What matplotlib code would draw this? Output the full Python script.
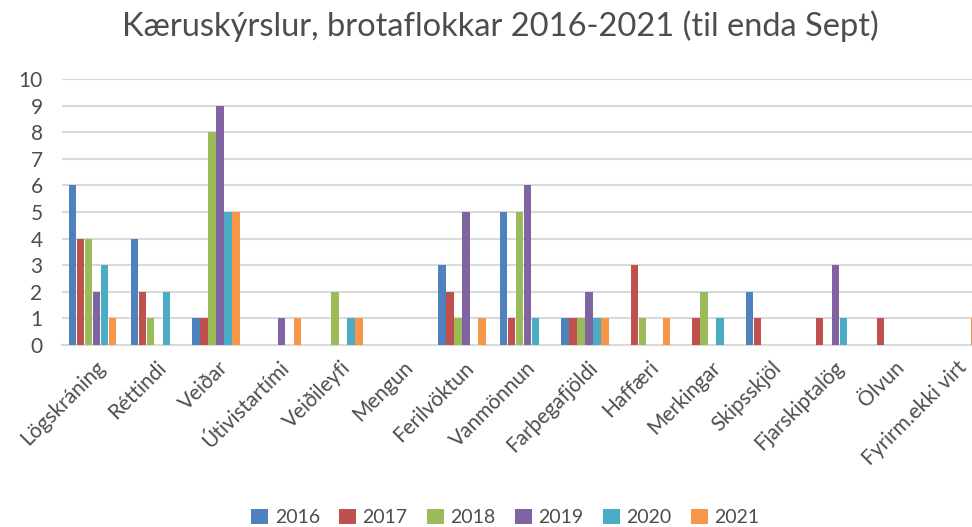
import numpy as np
import matplotlib
matplotlib.use("Agg")
import matplotlib.pyplot as plt

plt.rcParams['font.family'] = ['Lato', 'DejaVu Sans']

flokkar = ['Lögskráning', 'Réttindi', 'Veiðar', 'Útivistartími', 'Veiðileyfi', 'Mengun',
           'Ferilvöktun', 'Vanmönnun', 'Farþegafjöldi', 'Haffæri', 'Merkingar',
           'Skipsskjöl', 'Fjarskiptalög', 'Ölvun', 'Fyrirm.ekki virt']
ar = ['2016', '2017', '2018', '2019', '2020', '2021']

v2016 = [6, 4, 1, 0, 0, 0, 3, 5, 1, 0, 0, 2, 0, 0, 0]
v2017 = [4, 2, 1, 0, 0, 0, 2, 1, 1, 3, 1, 1, 1, 1, 0]
v2018 = [4, 1, 8, 0, 2, 0, 1, 5, 1, 1, 2, 0, 0, 0, 0]
v2019 = [2, 0, 9, 1, 0, 0, 5, 6, 2, 0, 0, 0, 3, 0, 0]
v2020 = [3, 2, 5, 0, 1, 0, 0, 1, 1, 0, 1, 0, 1, 0, 0]
v2021 = [1, 0, 5, 1, 1, 0, 1, 0, 1, 1, 0, 0, 0, 0, 1]

litir = ['#4F81BD', '#C0504D', '#9BBB59', '#8064A2', '#4BACC6', '#F79646']
grar = '#4d4d4d'

fig = plt.figure(figsize=(9.72, 5.27), dpi=100)
ax = fig.add_axes([0.0638, 0.3454, 0.9496, 0.5047])

x = np.arange(len(flokkar))
width = 0.13
for i, (ar_i, vals) in enumerate(zip(ar, [v2016, v2017, v2018, v2019, v2020, v2021])):
    ax.bar(x + (i - 2.5) * width, vals, width * 0.92, color=litir[i], label=ar_i, zorder=3)

ax.set_xlim(-0.5, len(flokkar) - 0.5)
ax.set_ylim(0, 10)
ax.set_yticks(range(0, 11))
ax.yaxis.grid(True, color='#D9D9D9', linewidth=1.5, zorder=0)
ax.set_axisbelow(True)
for s in ['top', 'right', 'left']:
    ax.spines[s].set_visible(False)
ax.spines['bottom'].set_color('#D9D9D9')
ax.spines['bottom'].set_linewidth(1.5)
ax.tick_params(axis='both', length=0, colors=grar, labelsize=15)
ax.tick_params(axis='y', pad=14)

ax.set_xticks(x + 0.03)
ax.set_xticklabels(flokkar, rotation=45, ha='right', rotation_mode='anchor', fontsize=15)
ax.tick_params(axis='x', pad=9)

fig.suptitle('Kæruskýrslur, brotaflokkar 2016-2021 (til enda Sept)', x=0.515, y=0.98,
             fontsize=23.5, color=grar)

fig.legend(loc='center', bbox_to_anchor=(0.52, 0.018), ncol=6, frameon=False,
           fontsize=14, handlelength=0.85, handleheight=0.85, handletextpad=0.35,
           columnspacing=1.0, labelcolor=grar)

plt.savefig('out.png', dpi=100)
